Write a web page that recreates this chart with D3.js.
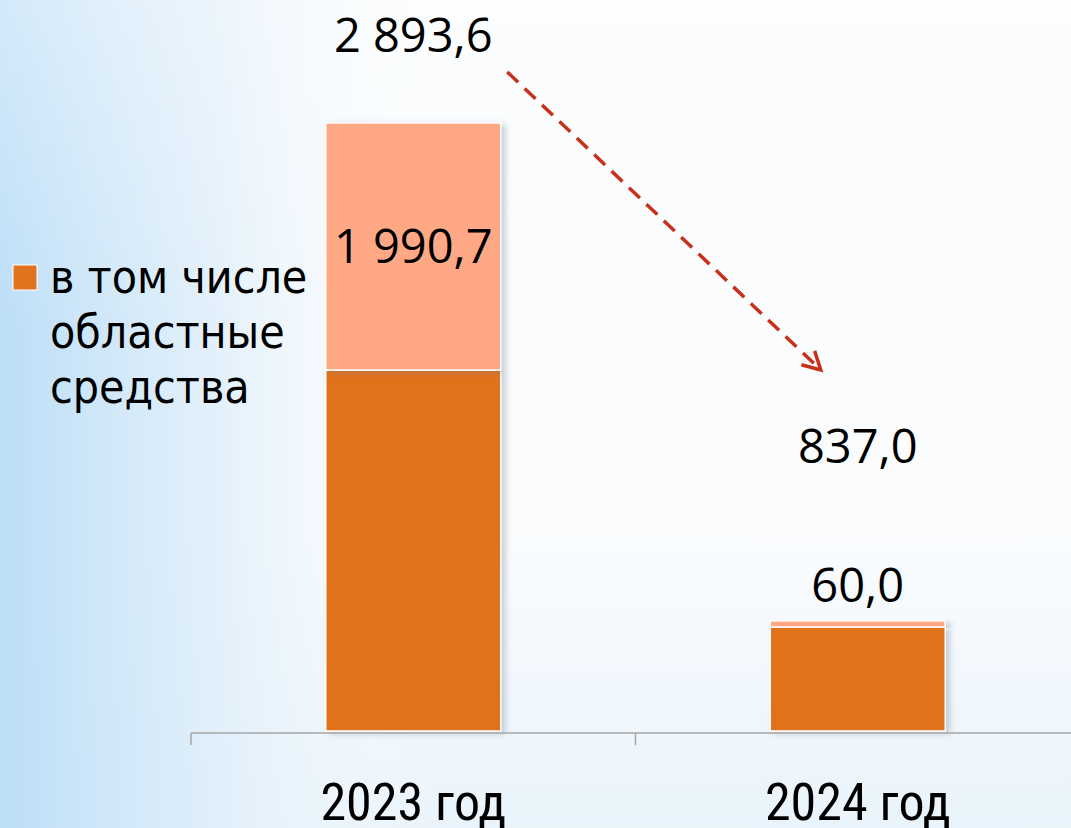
<!DOCTYPE html>
<html>
<head>
<meta charset="utf-8">
<script src="https://cdn.jsdelivr.net/npm/d3@7"></script>
<style>
  html, body { margin: 0; padding: 0; }
  body { width: 1071px; height: 828px; overflow: hidden; background: #f6fafd; }
  .num { font-family: "Open Sans", "Liberation Sans", sans-serif; fill: #000; }
  .cat { font-family: "Liberation Sans Narrow", "Roboto Condensed", "DejaVu Sans Condensed", sans-serif; fill: #000; }
  .leg { font-family: "DejaVu Sans Condensed", "DejaVu Sans", sans-serif; fill: #000; }
</style>
</head>
<body>
<svg id="chart"></svg>
<script>
// categories and values (segment heights)
let years = ['2023 год', '2024 год'];
let regional = [1718, 495];   // dark part: "в том числе областные средства"
let other = [1176, 29];       // light part
let totalLabels = ['2 893,6', '837,0'];
let partLabels = ['1 990,7', '60,0'];
let legendLines = ['в том числе', 'областные', 'средства'];

let width = 1071;
let height = 828;
let baseY = 731;

let svg = d3.select('#chart').attr('width', width).attr('height', height);

// background
let defs = svg.append('defs');
let gLeft = defs.append('linearGradient').attr('id', 'bgLeft').attr('x1', 0).attr('x2', 1).attr('y1', 0).attr('y2', 0);
gLeft.append('stop').attr('offset', '0%').attr('stop-color', '#bcdef7').attr('stop-opacity', 1);
gLeft.append('stop').attr('offset', '20%').attr('stop-color', '#dcedfa').attr('stop-opacity', 0.8);
gLeft.append('stop').attr('offset', '42%').attr('stop-color', '#ffffff').attr('stop-opacity', 0);
let gBottom = defs.append('linearGradient').attr('id', 'bgBottom').attr('x1', 0).attr('x2', 0).attr('y1', 0).attr('y2', 1);
gBottom.append('stop').attr('offset', '65%').attr('stop-color', '#e2f0fa').attr('stop-opacity', 0);
gBottom.append('stop').attr('offset', '100%').attr('stop-color', '#e2f0fa').attr('stop-opacity', 0.7);
let gTop = defs.append('linearGradient').attr('id', 'bgTop').attr('x1', 0).attr('x2', 0).attr('y1', 0).attr('y2', 1);
gTop.append('stop').attr('offset', '0%').attr('stop-color', '#ffffff').attr('stop-opacity', 0.35);
gTop.append('stop').attr('offset', '40%').attr('stop-color', '#ffffff').attr('stop-opacity', 0);
let shadow = defs.append('filter').attr('id', 'shadow').attr('x', '-10%').attr('y', '-10%').attr('width', '130%').attr('height', '120%');
shadow.append('feDropShadow').attr('dx', 4).attr('dy', 2).attr('stdDeviation', 3).attr('flood-color', '#6a7a88').attr('flood-opacity', 0.35);

svg.append('rect').attr('width', width).attr('height', height).attr('fill', '#fafcfe');
svg.append('rect').attr('width', width).attr('height', height).attr('fill', 'url(#bgBottom)');
svg.append('rect').attr('width', width).attr('height', height).attr('fill', 'url(#bgLeft)');
svg.append('rect').attr('width', width).attr('height', height).attr('fill', 'url(#bgTop)');

// scales
let xScale = d3.scaleBand().domain(years).range([191, 1080]).paddingInner(0).paddingOuter(0);
let yScale = d3.scaleLinear().domain([0, 2893.6]).range([baseY, 123]);
let barW = 175;

let rows = years.map((y, i) => ({
  year: y, regional: regional[i], other: other[i],
  total: totalLabels[i], part: partLabels[i]
}));
let stacked = d3.stack().keys(['regional', 'other'])(rows);
let colors = { regional: '#e1721e', other: '#ffa886' };

let cx = d => xScale(d.data.year) + xScale.bandwidth() / 2;

svg.append('g').selectAll('g').data(stacked).enter().append('g')
  .attr('fill', s => colors[s.key])
  .selectAll('rect').data(s => s).enter().append('rect')
  .attr('x', d => cx(d) - barW / 2)
  .attr('y', d => yScale(d[1]))
  .attr('width', barW)
  .attr('height', d => yScale(d[0]) - yScale(d[1]))
  .attr('stroke', '#ffffff')
  .attr('stroke-width', 1.5)
  .attr('filter', 'url(#shadow)');

// x axis
let axis = svg.append('g').attr('transform', 'translate(0,' + (baseY + 2) + ')');
axis.append('line').attr('x1', 191).attr('x2', width).attr('y1', 0).attr('y2', 0)
  .attr('stroke', '#a6a6a6').attr('stroke-width', 1.5);
axis.selectAll('line.tick').data(years).enter().append('line')
  .attr('class', 'tick')
  .attr('x1', d => xScale(d)).attr('x2', d => xScale(d))
  .attr('y1', 0).attr('y2', 12)
  .attr('stroke', '#a6a6a6').attr('stroke-width', 1.5);
axis.selectAll('text').data(years).enter().append('text')
  .attr('class', 'cat')
  .attr('x', d => xScale(d) + xScale.bandwidth() / 2)
  .attr('y', 87)
  .attr('text-anchor', 'middle')
  .attr('font-size', 52)
  .text(d => d);

// labels
let lightPart = stacked[1];
let inside = d => yScale(d[0]) - yScale(d[1]) > 40;
svg.append('g').selectAll('text').data(lightPart).enter().append('text')
  .attr('class', 'num')
  .attr('x', cx)
  .attr('y', d => inside(d) ? (yScale(d[0]) + yScale(d[1])) / 2 + 17 : yScale(d[1]) - 19)
  .attr('text-anchor', 'middle')
  .attr('font-size', 47)
  .text(d => d.data.part);

let totalY = d => yScale(d[1]) - (inside(d) ? 71 : 158);
svg.append('g').selectAll('text').data(lightPart).enter().append('text')
  .attr('class', 'num')
  .attr('x', cx)
  .attr('y', totalY)
  .attr('text-anchor', 'middle')
  .attr('font-size', 47)
  .text(d => d.data.total);

// dashed arrow between totals
let a = lightPart[0], b = lightPart[1];
let x1 = cx(a) + 94, y1 = totalY(a) + 20;
let x2 = cx(b) - 37, y2 = totalY(b) - 93;
let arrowColor = '#c8301c';
svg.append('line')
  .attr('x1', x1).attr('y1', y1).attr('x2', x2).attr('y2', y2)
  .attr('stroke', arrowColor).attr('stroke-width', 3.5)
  .attr('stroke-dasharray', '15 9');
let ang = Math.atan2(y2 - y1, x2 - x1);
let head = 20;
let p = t => [x2 - head * Math.cos(ang + t), y2 - head * Math.sin(ang + t)];
svg.append('path')
  .attr('d', d3.line()([p(0.5), [x2, y2], p(-0.5)]))
  .attr('fill', 'none').attr('stroke', arrowColor).attr('stroke-width', 3.5);

// legend
let leg = svg.append('g');
leg.append('rect').attr('x', 13).attr('y', 265).attr('width', 24).attr('height', 25)
  .attr('fill', colors.regional).attr('stroke', '#ffffff').attr('stroke-width', 1);
leg.selectAll('text').data(legendLines).enter().append('text')
  .attr('class', 'leg')
  .attr('x', 50)
  .attr('y', (d, i) => 293 + i * 55)
  .attr('font-size', 46)
  .text(d => d);
</script>
</body>
</html>
